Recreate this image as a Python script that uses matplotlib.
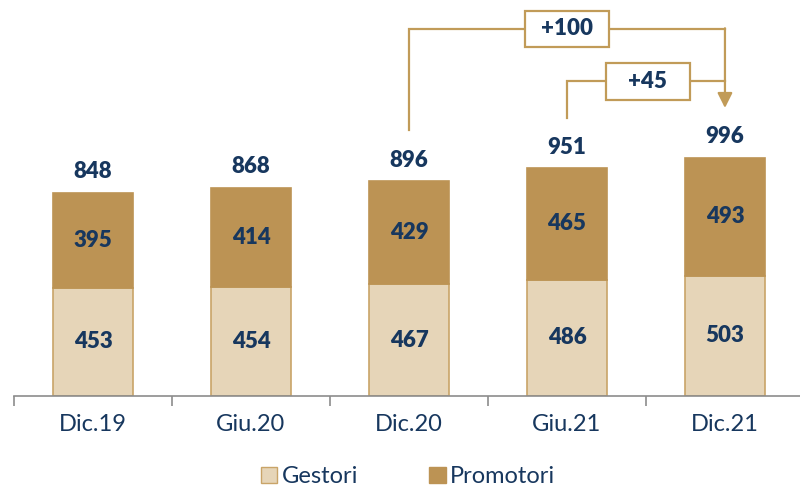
import matplotlib.pyplot as plt
from matplotlib.patches import Patch, Rectangle

categories = ['Dic.19', 'Giu.20', 'Dic.20', 'Giu.21', 'Dic.21']
gestori = [453, 454, 467, 486, 503]
promotori = [395, 414, 429, 465, 493]
totals = [g + p for g, p in zip(gestori, promotori)]

navy = '#17375E'
light = '#E6D5B8'
dark = '#BC9354'
edge = '#C9A468'
line_col = '#C19B58'

plt.rcParams['font.family'] = ['Lato', 'DejaVu Sans']

fig = plt.figure(figsize=(8, 4.88), dpi=100)
ax = fig.add_axes([14 / 800, 92 / 488, 786 / 800, 396 / 488])

x = range(len(categories))
ax.bar(x, gestori, width=0.51, color=light, edgecolor=edge, linewidth=1.2, label='Gestori')
ax.bar(x, promotori, bottom=gestori, width=0.51, color=dark, edgecolor=dark, linewidth=1.2, label='Promotori')

for i in x:
    ax.text(i, gestori[i] / 2, str(gestori[i]), ha='center', va='center',
            fontsize=16, fontweight='heavy', color=navy)
    ax.text(i, gestori[i] + promotori[i] / 2, str(promotori[i]), ha='center', va='center',
            fontsize=16, fontweight='heavy', color=navy)
    ax.text(i, totals[i] + 45, str(totals[i]), ha='center', va='bottom',
            fontsize=16, fontweight='heavy', color=navy)

# bracket +100 (Dic.20 -> Dic.21)
top1 = 1533
ax.plot([2, 2, 4], [1111, top1, top1], color=line_col, lw=1.6, solid_joinstyle='miter')
ax.annotate('', xy=(4, 1203), xytext=(4, top1 + 3),
            arrowprops=dict(arrowstyle='-|>,head_length=0.9,head_width=0.45',
                            color=line_col, lw=1.6, shrinkA=0, shrinkB=0))
ax.add_patch(Rectangle((2.734, 1458), 0.532, 150, fc='white', ec=line_col, lw=1.6, zorder=3))
ax.text(3.0, top1, '+100', ha='center', va='center', fontsize=16, fontweight='heavy',
        color=navy, zorder=4)

# bracket +45 (Giu.21 -> Dic.21)
top2 = 1314
ax.plot([3, 3, 4], [1161, top2, top2], color=line_col, lw=1.6, solid_joinstyle='miter')
ax.add_patch(Rectangle((3.247, 1236), 0.531, 155, fc='white', ec=line_col, lw=1.6, zorder=3))
ax.text(3.51, top2, '+45', ha='center', va='center', fontsize=16, fontweight='heavy',
        color=navy, zorder=4)

ax.set_xlim(-0.5, 4.475)
ax.set_ylim(0, 1654)
for s in ['top', 'right', 'left']:
    ax.spines[s].set_visible(False)
ax.spines['bottom'].set_color('#8C8C8C')
ax.spines['bottom'].set_linewidth(1.2)
ax.set_yticks([])
ax.set_xticks([i - 0.5 for i in range(5)], minor=False)
ax.set_xticklabels([])
ax.tick_params(axis='x', which='major', length=7, color='#8C8C8C', width=1.2)
ax.set_xticks(list(x), minor=True)
ax.set_xticklabels(categories, minor=True, fontsize=17, color=navy)
ax.tick_params(axis='x', which='minor', length=0, pad=13)

handles = [Patch(facecolor=light, edgecolor=edge, label='Gestori'),
           Patch(facecolor=dark, edgecolor=dark, label='Promotori')]
fig.legend(handles=handles, loc='center', bbox_to_anchor=(0.51, 0.023), ncol=2, frameon=False,
           fontsize=17, handlelength=0.7, handleheight=0.7, handletextpad=0.2, columnspacing=3.0,
           labelcolor=navy)

fig.savefig('out.png', dpi=100)
